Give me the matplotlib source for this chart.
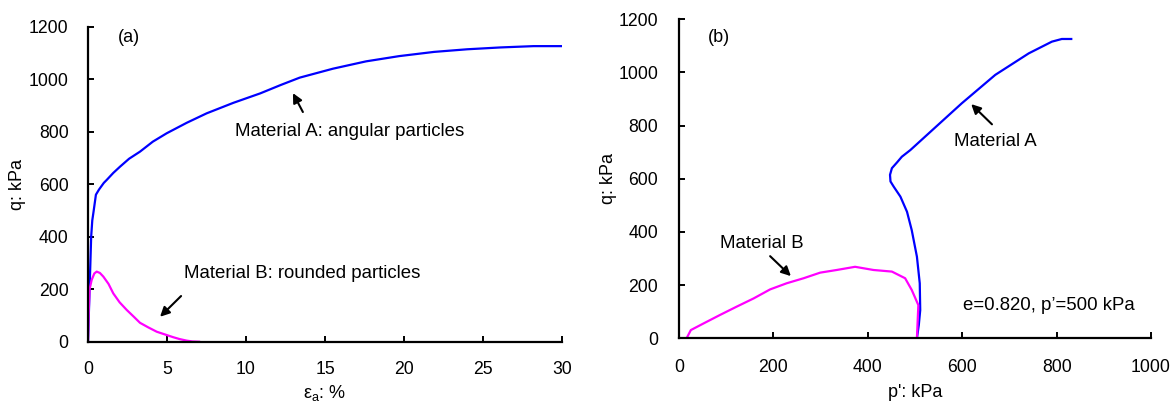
import matplotlib
matplotlib.use('Agg')
import matplotlib.pyplot as plt

plt.rcParams['font.family'] = ['Liberation Sans', 'DejaVu Sans']
plt.rcParams['mathtext.fontset'] = 'custom'
plt.rcParams['mathtext.rm'] = 'Liberation Sans'

# (a) q vs axial strain
eps_A = [0, 0.1, 0.2, 0.27, 0.35, 0.5, 0.7, 1.0, 1.18, 1.6, 2.03, 2.6, 3.29, 4.1, 4.98,
         6.25, 7.51, 9.2, 10.9, 12.2, 13.4, 15.5, 17.6, 19.7, 21.9, 24.0, 26.1, 28.2, 30.0]
q_A = [0, 200, 400, 462, 495, 560, 580, 605, 616, 643, 667, 697, 724, 762, 794,
       834, 870, 910, 946, 978, 1006, 1040, 1068, 1088, 1104, 1114, 1121, 1126, 1126]

eps_B = [0, 0.05, 0.1, 0.23, 0.4, 0.55, 0.75, 0.97, 1.3, 1.6, 2.0, 2.45, 2.9, 3.29,
         3.8, 4.35, 4.9, 5.4, 5.8, 6.25, 6.6, 7.03]
q_B = [0, 120, 200, 235, 260, 267, 262, 248, 220, 184, 150, 121, 95, 72,
       55, 38, 27, 17, 10, 4, 1, 0]

# (b) stress paths q vs p'
p_A = [504, 508, 511, 510, 504, 493, 483, 469, 455, 448, 447, 451, 462, 472, 490,
       529, 599, 670, 741, 790, 811, 831]
qp_A = [0, 50, 106, 207, 307, 407, 476, 533, 570, 590, 615, 640, 662, 683, 708,
        771, 884, 991, 1072, 1116, 1126, 1126]

p_B = [16, 25, 52, 87, 122, 158, 193, 228, 264, 299, 334, 373, 412, 451, 479, 493, 507, 504]
qp_B = [0, 31, 56, 88, 119, 150, 184, 207, 226, 247, 257, 269, 257, 251, 226, 182, 125, 0]

blue = '#0000FF'
pink = '#FF00FF'

fig = plt.figure(figsize=(11.75, 4.04), dpi=100)
ax1 = fig.add_axes([0.0749, 0.1542, 0.4034, 0.7797])
ax2 = fig.add_axes([0.5779, 0.1626, 0.4017, 0.7896])

arrow = dict(arrowstyle='-|>', color='black', lw=1.5, mutation_scale=14, shrinkA=0, shrinkB=0)

ax1.plot(eps_A, q_A, color=blue, lw=1.6)
ax1.plot(eps_B, q_B, color=pink, lw=1.6)
ax1.set_xlim(0, 30)
ax1.set_ylim(0, 1200)
ax1.set_xticks([0, 5, 10, 15, 20, 25, 30])
ax1.set_yticks(range(0, 1201, 200))
ax1.set_ylabel('q: kPa', fontsize=13)
ax1.yaxis.set_label_coords(-0.13, 0.5)
ax1.text(1.9, 1157, '(a)', fontsize=13, va='center', ha='left')
ax1.text(9.3, 799, 'Material A: angular particles', fontsize=13.4, va='center', ha='left')
ax1.text(6.08, 261, 'Material B: rounded particles', fontsize=13.4, va='center', ha='left')
ax1.annotate('', xy=(12.97, 947), xytext=(13.6, 875), arrowprops=arrow)
ax1.annotate('', xy=(4.56, 95), xytext=(5.89, 174), arrowprops=arrow)

ax2.plot(p_A, qp_A, color=blue, lw=1.6)
ax2.plot(p_B, qp_B, color=pink, lw=1.6)
ax2.set_xlim(0, 1000)
ax2.set_ylim(0, 1200)
ax2.set_xticks(range(0, 1001, 200))
ax2.set_yticks(range(0, 1201, 200))
ax2.set_ylabel('q: kPa', fontsize=13)
ax2.yaxis.set_label_coords(-0.132, 0.5)
ax2.text(61, 1130, '(b)', fontsize=13, va='center', ha='left')
ax2.text(87, 355, 'Material B', fontsize=13.4, va='center', ha='left')
ax2.text(583, 740, 'Material A', fontsize=13.4, va='center', ha='left')
ax2.text(601, 125, 'e=0.820, p\u2019=500 kPa', fontsize=13.4, va='center', ha='left')
ax2.annotate('', xy=(237, 234), xytext=(193, 309), arrowprops=arrow)
ax2.annotate('', xy=(619, 881), xytext=(663, 805), arrowprops=arrow)

# x labels sit close to the bottom edge
fig.text(325 / 1175, 0.028, 'ε$_\\mathrm{a}$: %', fontsize=13, ha='center', va='center')
fig.text(915 / 1175, 0.028, "p': kPa", fontsize=13, ha='center', va='center')

for ax in (ax1, ax2):
    ax.spines['top'].set_visible(False)
    ax.spines['right'].set_visible(False)
    ax.spines['left'].set_linewidth(1.6)
    ax.spines['bottom'].set_linewidth(1.6)
    ax.tick_params(direction='in', length=4, width=1.4, labelsize=12.7)
ax1.tick_params(axis='x', pad=14)
ax1.tick_params(axis='y', pad=14)
ax2.tick_params(axis='x', pad=15)
ax2.tick_params(axis='y', pad=15)

fig.savefig('out.png', dpi=100)
